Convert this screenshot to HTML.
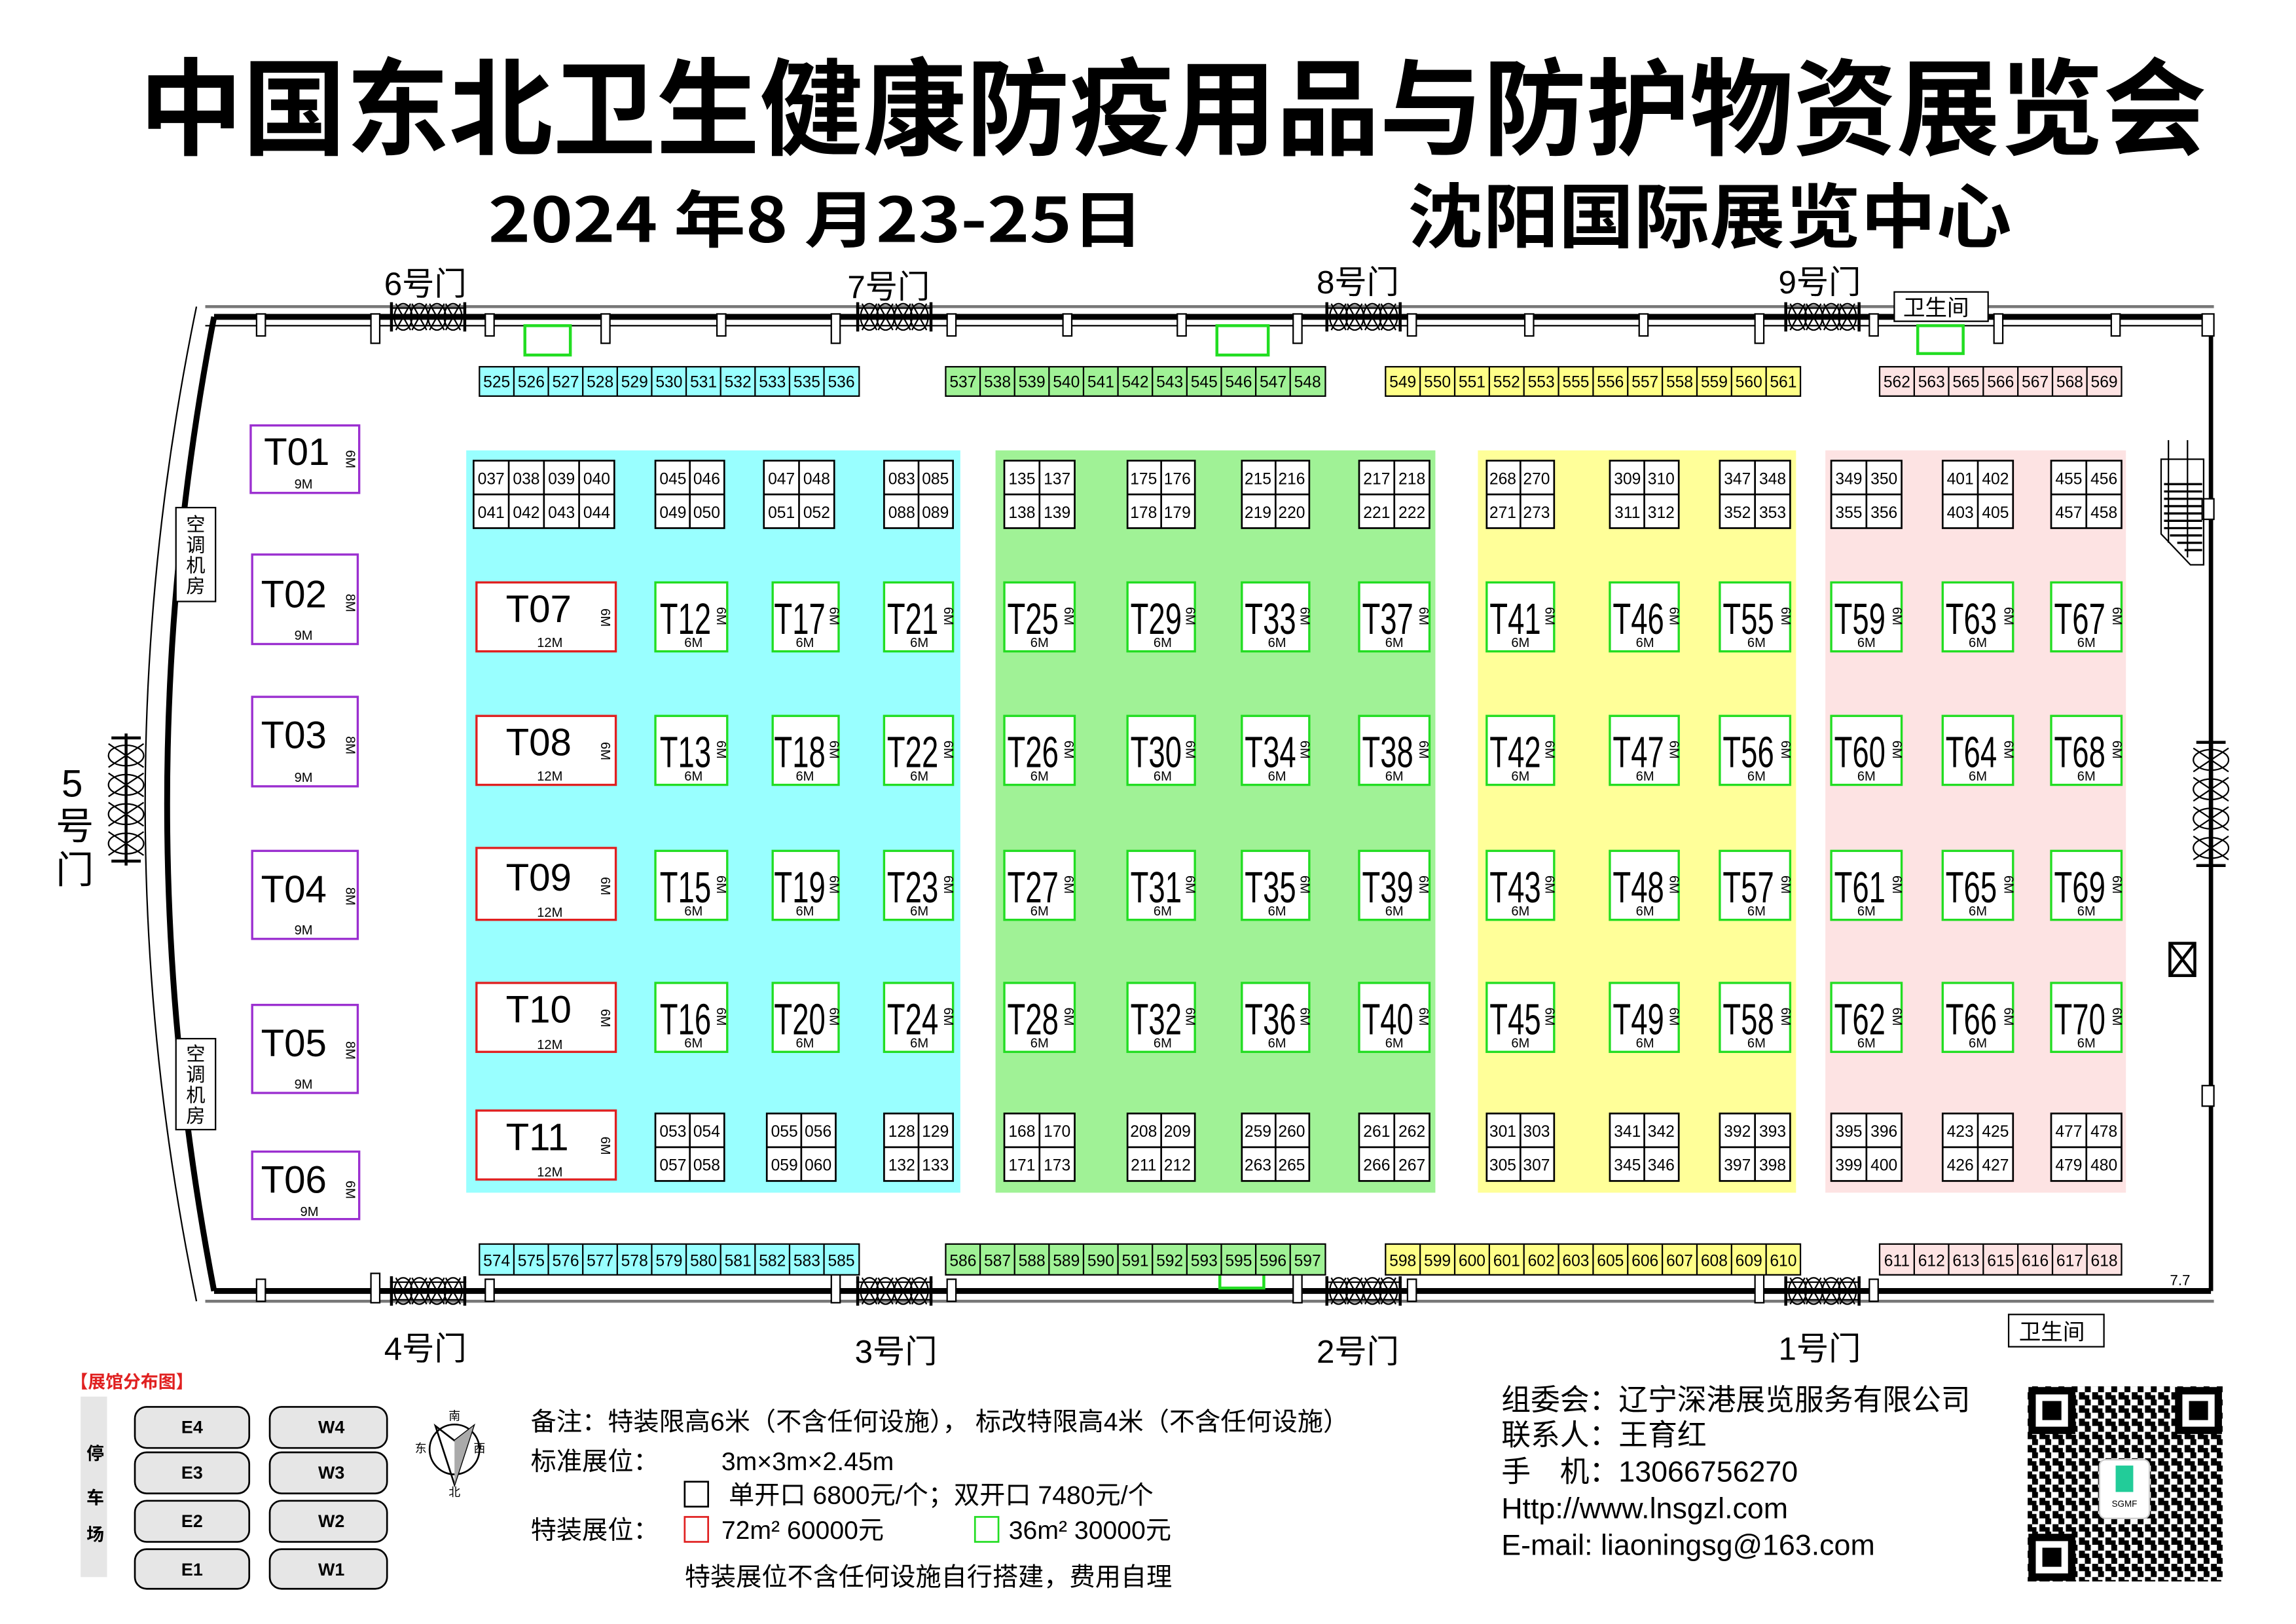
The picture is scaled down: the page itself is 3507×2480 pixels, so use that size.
<!DOCTYPE html>
<html><head><meta charset="utf-8"><style>
html,body{margin:0;padding:0;background:#fff}
svg{display:block}
text{font-family:"Liberation Sans","Noto Sans CJK SC",sans-serif;fill:#000}
.c{font-family:"Noto Sans CJK SC","Liberation Sans",sans-serif}
.s{font-size:11px;text-anchor:middle}
.b{font-size:30px}
.m{font-size:9px;text-anchor:middle}
</style></head><body>
<svg width="3507" height="2480" viewBox="0 0 1566 1107" preserveAspectRatio="none" xmlns="http://www.w3.org/2000/svg">
<defs>
<g id="door"><path d="M-26,-6 L26,-6 M-26,6 L26,6" stroke="#000" stroke-width="1"/>
<path d="M-22,-9 L-12,9 M-12,-9 L-22,9 M-11,-9 L-1,9 M-1,-9 L-11,9 M1,-9 L11,9 M11,-9 L1,9 M12,-9 L22,9 M22,-9 L12,9" stroke="#000" stroke-width="1"/>
<ellipse cx="-17" cy="0" rx="6" ry="9" fill="none" stroke="#000"/><ellipse cx="-6" cy="0" rx="6" ry="9" fill="none" stroke="#000"/><ellipse cx="6" cy="0" rx="6" ry="9" fill="none" stroke="#000"/><ellipse cx="17" cy="0" rx="6" ry="9" fill="none" stroke="#000"/>
<path d="M-25,-10 L-25,10 M25,-10 L25,10" stroke="#000" stroke-width="2"/></g>
<g id="vdoor"><path d="M-10,-42 L10,-42 M-10,42 L10,42 M0,-45 L0,45" stroke="#000" stroke-width="2"/>
<path d="M-12,-38 L12,-22 M12,-38 L-12,-22 M-12,-18 L12,-2 M12,-18 L-12,-2 M-12,2 L12,18 M12,2 L-12,18 M-12,22 L12,38 M12,22 L-12,38" stroke="#000"/>
<ellipse cx="0" cy="-30" rx="12" ry="7" fill="none" stroke="#000"/><ellipse cx="0" cy="-10" rx="12" ry="7" fill="none" stroke="#000"/><ellipse cx="0" cy="10" rx="12" ry="7" fill="none" stroke="#000"/><ellipse cx="0" cy="30" rx="12" ry="7" fill="none" stroke="#000"/></g>
<pattern id="qr" width="9" height="9" patternUnits="userSpaceOnUse"><rect width="9" height="9" fill="#fff"/><rect x="0" y="0" width="4" height="4" fill="#000"/><rect x="5" y="4" width="4" height="5" fill="#000"/><rect x="0" y="6" width="3" height="3" fill="#000"/></pattern>
</defs>

<text x="95" y="100" font-size="72" font-weight="bold" textLength="1410" lengthAdjust="spacingAndGlyphs" class="c">中国东北卫生健康防疫用品与防护物资展览会</text>
<text x="333" y="165" font-size="42" font-weight="bold" textLength="447" lengthAdjust="spacingAndGlyphs" class="c">2024 年8 月23-25日</text>
<text x="960" y="165" font-size="48" font-weight="bold" textLength="412" lengthAdjust="spacingAndGlyphs" class="c">沈阳国际展览中心</text>

<rect x="318" y="307" width="337" height="506" fill="#99ffff"/>
<rect x="679" y="307" width="300" height="506" fill="#a0f296"/>
<rect x="1008" y="307" width="217" height="506" fill="#ffff99"/>
<rect x="1245" y="307" width="205" height="506" fill="#fde3e3"/>

<path d="M140,209 L1510,209" stroke="#777" stroke-width="2"/>
<path d="M146,216 L1508,216" stroke="#000" stroke-width="4"/>
<path d="M140,222 L1508,222" stroke="#000" stroke-width="1"/>
<path d="M1508,216 L1508,880" stroke="#000" stroke-width="3"/>
<path d="M146,880 L1508,880" stroke="#000" stroke-width="4"/>
<path d="M140,887 L1510,887" stroke="#777" stroke-width="2"/>
<path d="M146,216 Q82,548 146,880" fill="none" stroke="#000" stroke-width="4"/>
<path d="M134,209 Q64,548 134,887" fill="none" stroke="#000" stroke-width="1"/>
<g fill="#fff" stroke="#000" stroke-width="1">
<rect x="175" y="214" width="6" height="15"/><rect x="253" y="214" width="6" height="20"/><rect x="331" y="214" width="6" height="15"/><rect x="410" y="214" width="6" height="20"/><rect x="489" y="214" width="6" height="15"/><rect x="567" y="214" width="6" height="20"/><rect x="646" y="214" width="6" height="15"/><rect x="725" y="214" width="6" height="15"/><rect x="803" y="214" width="6" height="15"/><rect x="882" y="214" width="6" height="20"/><rect x="960" y="214" width="6" height="15"/><rect x="1040" y="214" width="6" height="15"/><rect x="1118" y="214" width="6" height="15"/><rect x="1197" y="214" width="6" height="20"/><rect x="1275" y="214" width="6" height="15"/><rect x="1360" y="214" width="6" height="20"/><rect x="1440" y="214" width="6" height="15"/><rect x="1502" y="214" width="8" height="15"/>
<rect x="175" y="872" width="6" height="15"/><rect x="253" y="868" width="6" height="20"/><rect x="331" y="872" width="6" height="15"/><rect x="567" y="868" width="6" height="20"/><rect x="646" y="872" width="6" height="15"/><rect x="882" y="868" width="6" height="20"/><rect x="960" y="872" width="6" height="15"/><rect x="1197" y="868" width="6" height="20"/><rect x="1275" y="872" width="6" height="15"/>
<rect x="1502" y="340" width="8" height="14"/><rect x="1502" y="740" width="8" height="14"/>
</g>
<use href="#door" x="292" y="216"/><use href="#door" x="610" y="216"/><use href="#door" x="930" y="216"/><use href="#door" x="1243" y="216"/>
<use href="#door" x="292" y="880"/><use href="#door" x="610" y="880"/><use href="#door" x="930" y="880"/><use href="#door" x="1243" y="880"/>
<use href="#vdoor" x="86" y="545"/><use href="#vdoor" x="1508" y="548"/>
<g class="c" font-size="22">
<text x="262" y="201">6号门</text><text x="578" y="203">7号门</text><text x="898" y="200">8号门</text><text x="1213" y="200">9号门</text>
<text x="262" y="927">4号门</text><text x="583" y="929">3号门</text><text x="898" y="929">2号门</text><text x="1213" y="927">1号门</text>
<text x="42" y="543" font-size="26">5</text><text x="38" y="572" font-size="26">号</text><text x="38" y="602" font-size="26">门</text>
</g>
<rect x="1292" y="199" width="64" height="20" fill="#fff" stroke="#000"/><text x="1298" y="215" class="c" font-size="15">卫生间</text>
<rect x="1370" y="896" width="65" height="22" fill="#fff" stroke="#000"/><text x="1377" y="913" class="c" font-size="15">卫生间</text>
<g fill="none" stroke="#22dd22" stroke-width="2"><rect x="358" y="222" width="31" height="20"/><rect x="830" y="222" width="35" height="20"/><rect x="1308" y="222" width="31" height="19"/><rect x="832" y="868" width="30" height="10"/></g>
<g stroke="#000" fill="none"><path d="M1474,313 L1503,313 L1503,385 L1494,385 L1474,364 Z"/><path d="M1479,300 L1479,370 M1492,300 L1492,380"/>
<path d="M1476,330 H1502 M1476,335 H1502 M1476,340 H1502 M1476,345 H1502 M1476,350 H1502 M1476,355 H1502 M1476,360 H1502 M1480,365 H1502 M1485,370 H1502 M1490,375 H1502" stroke-width="1.5"/>
<rect x="1480" y="643" width="17" height="22" stroke-width="2"/><path d="M1480,643 L1497,665 M1497,643 L1480,665" stroke-width="2"/></g>
<text x="1480" y="876" font-size="10">7.7</text>

<rect x="120" y="346" width="27" height="64" fill="#fff" stroke="#000"/>
<text x="127" y="362" class="c" font-size="13">空</text><text x="127" y="376" class="c" font-size="13">调</text><text x="127" y="390" class="c" font-size="13">机</text><text x="127" y="404" class="c" font-size="13">房</text>
<rect x="120" y="708" width="27" height="62" fill="#fff" stroke="#000"/>
<text x="127" y="723" class="c" font-size="13">空</text><text x="127" y="737" class="c" font-size="13">调</text><text x="127" y="751" class="c" font-size="13">机</text><text x="127" y="765" class="c" font-size="13">房</text>

<g stroke="#000" stroke-width="1">
<rect x="327" y="250" width="259" height="20" fill="#99ffff"/>
<rect x="645" y="250" width="259" height="20" fill="#a0f296"/>
<rect x="945" y="250" width="283" height="20" fill="#ffff88"/>
<rect x="1282" y="250" width="165" height="20" fill="#fde3e3"/>
<rect x="327" y="848" width="259" height="21" fill="#99ffff"/>
<rect x="645" y="848" width="259" height="21" fill="#a0f296"/>
<rect x="945" y="848" width="283" height="21" fill="#ffff88"/>
<rect x="1282" y="848" width="165" height="21" fill="#fde3e3"/>
<path d="M350.5,250v20M374,250v20M397.5,250v20M421,250v20M444.5,250v20M468,250v20M491.5,250v20M515,250v20M538.5,250v20M562,250v20
M668.5,250v20M692,250v20M715.5,250v20M739,250v20M762.5,250v20M786,250v20M809.5,250v20M833,250v20M856.5,250v20M880,250v20
M968.6,250v20M992.2,250v20M1015.8,250v20M1039.4,250v20M1063,250v20M1086.6,250v20M1110.2,250v20M1133.8,250v20M1157.4,250v20M1181,250v20M1204.6,250v20
M1305.6,250v20M1329.1,250v20M1352.7,250v20M1376.3,250v20M1399.9,250v20M1423.4,250v20"/>
<path d="M350.5,848v21M374,848v21M397.5,848v21M421,848v21M444.5,848v21M468,848v21M491.5,848v21M515,848v21M538.5,848v21M562,848v21
M668.5,848v21M692,848v21M715.5,848v21M739,848v21M762.5,848v21M786,848v21M809.5,848v21M833,848v21M856.5,848v21M880,848v21
M968.6,848v21M992.2,848v21M1015.8,848v21M1039.4,848v21M1063,848v21M1086.6,848v21M1110.2,848v21M1133.8,848v21M1157.4,848v21M1181,848v21M1204.6,848v21
M1305.6,848v21M1329.1,848v21M1352.7,848v21M1376.3,848v21M1399.9,848v21M1423.4,848v21"/>
</g>
<g class="s">
<text x="338.8" y="264">525</text><text x="362.3" y="264">526</text><text x="385.8" y="264">527</text><text x="409.3" y="264">528</text><text x="432.8" y="264">529</text><text x="456.3" y="264">530</text><text x="479.8" y="264">531</text><text x="503.3" y="264">532</text><text x="526.8" y="264">533</text><text x="550.3" y="264">535</text><text x="573.8" y="264">536</text>
<text x="656.8" y="264">537</text><text x="680.3" y="264">538</text><text x="703.8" y="264">539</text><text x="727.3" y="264">540</text><text x="750.8" y="264">541</text><text x="774.3" y="264">542</text><text x="797.8" y="264">543</text><text x="821.3" y="264">545</text><text x="844.8" y="264">546</text><text x="868.3" y="264">547</text><text x="891.8" y="264">548</text>
<text x="956.8" y="264">549</text><text x="980.4" y="264">550</text><text x="1004" y="264">551</text><text x="1027.6" y="264">552</text><text x="1051.2" y="264">553</text><text x="1074.8" y="264">555</text><text x="1098.4" y="264">556</text><text x="1122" y="264">557</text><text x="1145.6" y="264">558</text><text x="1169.2" y="264">559</text><text x="1192.8" y="264">560</text><text x="1216.3" y="264">561</text>
<text x="1293.8" y="264">562</text><text x="1317.4" y="264">563</text><text x="1340.9" y="264">565</text><text x="1364.5" y="264">566</text><text x="1388.1" y="264">567</text><text x="1411.7" y="264">568</text><text x="1435.2" y="264">569</text>
<text x="338.8" y="863">574</text><text x="362.3" y="863">575</text><text x="385.8" y="863">576</text><text x="409.3" y="863">577</text><text x="432.8" y="863">578</text><text x="456.3" y="863">579</text><text x="479.8" y="863">580</text><text x="503.3" y="863">581</text><text x="526.8" y="863">582</text><text x="550.3" y="863">583</text><text x="573.8" y="863">585</text>
<text x="656.8" y="863">586</text><text x="680.3" y="863">587</text><text x="703.8" y="863">588</text><text x="727.3" y="863">589</text><text x="750.8" y="863">590</text><text x="774.3" y="863">591</text><text x="797.8" y="863">592</text><text x="821.3" y="863">593</text><text x="844.8" y="863">595</text><text x="868.3" y="863">596</text><text x="891.8" y="863">597</text>
<text x="956.8" y="863">598</text><text x="980.4" y="863">599</text><text x="1004" y="863">600</text><text x="1027.6" y="863">601</text><text x="1051.2" y="863">602</text><text x="1074.8" y="863">603</text><text x="1098.4" y="863">605</text><text x="1122" y="863">606</text><text x="1145.6" y="863">607</text><text x="1169.2" y="863">608</text><text x="1192.8" y="863">609</text><text x="1216.3" y="863">610</text>
<text x="1293.8" y="863">611</text><text x="1317.4" y="863">612</text><text x="1340.9" y="863">613</text><text x="1364.5" y="863">615</text><text x="1388.1" y="863">616</text><text x="1411.7" y="863">617</text><text x="1435.2" y="863">618</text>
</g>

<g fill="#fff" stroke="#9b2fd0" stroke-width="1.5">
<rect x="171" y="290" width="74" height="46"/><rect x="172" y="378" width="72" height="61"/><rect x="172" y="475" width="72" height="61"/><rect x="172" y="580" width="72" height="60"/><rect x="172" y="685" width="72" height="60"/><rect x="172" y="785" width="73" height="46"/>
</g>
<g font-size="26">
<text x="180" y="317">T01</text><text x="178" y="414">T02</text><text x="178" y="510">T03</text><text x="178" y="615">T04</text><text x="178" y="720">T05</text><text x="178" y="813">T06</text>
</g>
<g class="m"><text x="207" y="333">9M</text><text x="207" y="436">9M</text><text x="207" y="533">9M</text><text x="207" y="637">9M</text><text x="207" y="742">9M</text><text x="211" y="829">9M</text></g>
<g class="m">
<text transform="translate(236,313) rotate(90)">6M</text><text transform="translate(236,411) rotate(90)">8M</text><text transform="translate(236,508) rotate(90)">8M</text><text transform="translate(236,611) rotate(90)">8M</text><text transform="translate(236,716) rotate(90)">8M</text><text transform="translate(236,811) rotate(90)">6M</text>
</g>

<g fill="#fff" stroke="#e02020" stroke-width="1.5">
<rect x="325" y="397" width="95" height="47"/><rect x="325" y="488" width="95" height="47"/><rect x="325" y="578" width="95" height="49"/><rect x="325" y="670" width="95" height="47"/><rect x="325" y="757" width="95" height="47"/>
</g>
<g font-size="26"><text x="345" y="424">T07</text><text x="345" y="515">T08</text><text x="345" y="607">T09</text><text x="345" y="697">T10</text><text x="345" y="784">T11</text></g>
<g class="m"><text x="375" y="441">12M</text><text x="375" y="532">12M</text><text x="375" y="625">12M</text><text x="375" y="715">12M</text><text x="375" y="802">12M</text>
<text transform="translate(410,421) rotate(90)">6M</text><text transform="translate(410,512) rotate(90)">6M</text><text transform="translate(410,604) rotate(90)">6M</text><text transform="translate(410,694) rotate(90)">6M</text><text transform="translate(410,781) rotate(90)">6M</text></g>

<g fill="#fff" stroke="#22dd22" stroke-width="1.5">
<rect x="447" y="397" width="49" height="47"/><rect x="527" y="397" width="45" height="47"/><rect x="603" y="397" width="47" height="47"/>
<rect x="447" y="488" width="49" height="47"/><rect x="527" y="488" width="45" height="47"/><rect x="603" y="488" width="47" height="47"/>
<rect x="447" y="580" width="49" height="47"/><rect x="527" y="580" width="45" height="47"/><rect x="603" y="580" width="47" height="47"/>
<rect x="447" y="670" width="49" height="47"/><rect x="527" y="670" width="45" height="47"/><rect x="603" y="670" width="47" height="47"/>
<rect x="685" y="397" width="48" height="47"/><rect x="769" y="397" width="46" height="47"/><rect x="847" y="397" width="46" height="47"/><rect x="927" y="397" width="48" height="47"/>
<rect x="685" y="488" width="48" height="47"/><rect x="769" y="488" width="46" height="47"/><rect x="847" y="488" width="46" height="47"/><rect x="927" y="488" width="48" height="47"/>
<rect x="685" y="580" width="48" height="47"/><rect x="769" y="580" width="46" height="47"/><rect x="847" y="580" width="46" height="47"/><rect x="927" y="580" width="48" height="47"/>
<rect x="685" y="670" width="48" height="47"/><rect x="769" y="670" width="46" height="47"/><rect x="847" y="670" width="46" height="47"/><rect x="927" y="670" width="48" height="47"/>
<rect x="1014" y="397" width="46" height="47"/><rect x="1098" y="397" width="47" height="47"/><rect x="1173" y="397" width="48" height="47"/>
<rect x="1014" y="488" width="46" height="47"/><rect x="1098" y="488" width="47" height="47"/><rect x="1173" y="488" width="48" height="47"/>
<rect x="1014" y="580" width="46" height="47"/><rect x="1098" y="580" width="47" height="47"/><rect x="1173" y="580" width="48" height="47"/>
<rect x="1014" y="670" width="46" height="47"/><rect x="1098" y="670" width="47" height="47"/><rect x="1173" y="670" width="48" height="47"/>
<rect x="1249" y="397" width="48" height="47"/><rect x="1325" y="397" width="48" height="47"/><rect x="1399" y="397" width="48" height="47"/>
<rect x="1249" y="488" width="48" height="47"/><rect x="1325" y="488" width="48" height="47"/><rect x="1399" y="488" width="48" height="47"/>
<rect x="1249" y="580" width="48" height="47"/><rect x="1325" y="580" width="48" height="47"/><rect x="1399" y="580" width="48" height="47"/>
<rect x="1249" y="670" width="48" height="47"/><rect x="1325" y="670" width="48" height="47"/><rect x="1399" y="670" width="48" height="47"/>
</g>
<g class="b">
<text x="450" y="432" textLength="35" lengthAdjust="spacingAndGlyphs">T12</text><text x="528" y="432" textLength="35" lengthAdjust="spacingAndGlyphs">T17</text><text x="605" y="432" textLength="35" lengthAdjust="spacingAndGlyphs">T21</text>
<text x="450" y="523" textLength="35" lengthAdjust="spacingAndGlyphs">T13</text><text x="528" y="523" textLength="35" lengthAdjust="spacingAndGlyphs">T18</text><text x="605" y="523" textLength="35" lengthAdjust="spacingAndGlyphs">T22</text>
<text x="450" y="615" textLength="35" lengthAdjust="spacingAndGlyphs">T15</text><text x="528" y="615" textLength="35" lengthAdjust="spacingAndGlyphs">T19</text><text x="605" y="615" textLength="35" lengthAdjust="spacingAndGlyphs">T23</text>
<text x="450" y="705" textLength="35" lengthAdjust="spacingAndGlyphs">T16</text><text x="528" y="705" textLength="35" lengthAdjust="spacingAndGlyphs">T20</text><text x="605" y="705" textLength="35" lengthAdjust="spacingAndGlyphs">T24</text>
<text x="687" y="432" textLength="35" lengthAdjust="spacingAndGlyphs">T25</text><text x="771" y="432" textLength="35" lengthAdjust="spacingAndGlyphs">T29</text><text x="849" y="432" textLength="35" lengthAdjust="spacingAndGlyphs">T33</text><text x="929" y="432" textLength="35" lengthAdjust="spacingAndGlyphs">T37</text>
<text x="687" y="523" textLength="35" lengthAdjust="spacingAndGlyphs">T26</text><text x="771" y="523" textLength="35" lengthAdjust="spacingAndGlyphs">T30</text><text x="849" y="523" textLength="35" lengthAdjust="spacingAndGlyphs">T34</text><text x="929" y="523" textLength="35" lengthAdjust="spacingAndGlyphs">T38</text>
<text x="687" y="615" textLength="35" lengthAdjust="spacingAndGlyphs">T27</text><text x="771" y="615" textLength="35" lengthAdjust="spacingAndGlyphs">T31</text><text x="849" y="615" textLength="35" lengthAdjust="spacingAndGlyphs">T35</text><text x="929" y="615" textLength="35" lengthAdjust="spacingAndGlyphs">T39</text>
<text x="687" y="705" textLength="35" lengthAdjust="spacingAndGlyphs">T28</text><text x="771" y="705" textLength="35" lengthAdjust="spacingAndGlyphs">T32</text><text x="849" y="705" textLength="35" lengthAdjust="spacingAndGlyphs">T36</text><text x="929" y="705" textLength="35" lengthAdjust="spacingAndGlyphs">T40</text>
<text x="1016" y="432" textLength="35" lengthAdjust="spacingAndGlyphs">T41</text><text x="1100" y="432" textLength="35" lengthAdjust="spacingAndGlyphs">T46</text><text x="1175" y="432" textLength="35" lengthAdjust="spacingAndGlyphs">T55</text>
<text x="1016" y="523" textLength="35" lengthAdjust="spacingAndGlyphs">T42</text><text x="1100" y="523" textLength="35" lengthAdjust="spacingAndGlyphs">T47</text><text x="1175" y="523" textLength="35" lengthAdjust="spacingAndGlyphs">T56</text>
<text x="1016" y="615" textLength="35" lengthAdjust="spacingAndGlyphs">T43</text><text x="1100" y="615" textLength="35" lengthAdjust="spacingAndGlyphs">T48</text><text x="1175" y="615" textLength="35" lengthAdjust="spacingAndGlyphs">T57</text>
<text x="1016" y="705" textLength="35" lengthAdjust="spacingAndGlyphs">T45</text><text x="1100" y="705" textLength="35" lengthAdjust="spacingAndGlyphs">T49</text><text x="1175" y="705" textLength="35" lengthAdjust="spacingAndGlyphs">T58</text>
<text x="1251" y="432" textLength="35" lengthAdjust="spacingAndGlyphs">T59</text><text x="1327" y="432" textLength="35" lengthAdjust="spacingAndGlyphs">T63</text><text x="1401" y="432" textLength="35" lengthAdjust="spacingAndGlyphs">T67</text>
<text x="1251" y="523" textLength="35" lengthAdjust="spacingAndGlyphs">T60</text><text x="1327" y="523" textLength="35" lengthAdjust="spacingAndGlyphs">T64</text><text x="1401" y="523" textLength="35" lengthAdjust="spacingAndGlyphs">T68</text>
<text x="1251" y="615" textLength="35" lengthAdjust="spacingAndGlyphs">T61</text><text x="1327" y="615" textLength="35" lengthAdjust="spacingAndGlyphs">T65</text><text x="1401" y="615" textLength="35" lengthAdjust="spacingAndGlyphs">T69</text>
<text x="1251" y="705" textLength="35" lengthAdjust="spacingAndGlyphs">T62</text><text x="1327" y="705" textLength="35" lengthAdjust="spacingAndGlyphs">T66</text><text x="1401" y="705" textLength="35" lengthAdjust="spacingAndGlyphs">T70</text>
</g>
<g class="m">
<text x="473" y="441">6M</text><text x="549" y="441">6M</text><text x="627" y="441">6M</text><text x="473" y="532">6M</text><text x="549" y="532">6M</text><text x="627" y="532">6M</text><text x="473" y="624">6M</text><text x="549" y="624">6M</text><text x="627" y="624">6M</text><text x="473" y="714">6M</text><text x="549" y="714">6M</text><text x="627" y="714">6M</text>
<text x="709" y="441">6M</text><text x="793" y="441">6M</text><text x="871" y="441">6M</text><text x="951" y="441">6M</text><text x="709" y="532">6M</text><text x="793" y="532">6M</text><text x="871" y="532">6M</text><text x="951" y="532">6M</text><text x="709" y="624">6M</text><text x="793" y="624">6M</text><text x="871" y="624">6M</text><text x="951" y="624">6M</text><text x="709" y="714">6M</text><text x="793" y="714">6M</text><text x="871" y="714">6M</text><text x="951" y="714">6M</text>
<text x="1037" y="441">6M</text><text x="1122" y="441">6M</text><text x="1198" y="441">6M</text><text x="1037" y="532">6M</text><text x="1122" y="532">6M</text><text x="1198" y="532">6M</text><text x="1037" y="624">6M</text><text x="1122" y="624">6M</text><text x="1198" y="624">6M</text><text x="1037" y="714">6M</text><text x="1122" y="714">6M</text><text x="1198" y="714">6M</text>
<text x="1273" y="441">6M</text><text x="1349" y="441">6M</text><text x="1423" y="441">6M</text><text x="1273" y="532">6M</text><text x="1349" y="532">6M</text><text x="1423" y="532">6M</text><text x="1273" y="624">6M</text><text x="1349" y="624">6M</text><text x="1423" y="624">6M</text><text x="1273" y="714">6M</text><text x="1349" y="714">6M</text><text x="1423" y="714">6M</text>
</g>
<g class="m">
<text transform="translate(489,420) rotate(90)">6M</text><text transform="translate(566,420) rotate(90)">6M</text><text transform="translate(644,420) rotate(90)">6M</text>
<text transform="translate(489,511) rotate(90)">6M</text><text transform="translate(566,511) rotate(90)">6M</text><text transform="translate(644,511) rotate(90)">6M</text>
<text transform="translate(489,603) rotate(90)">6M</text><text transform="translate(566,603) rotate(90)">6M</text><text transform="translate(644,603) rotate(90)">6M</text>
<text transform="translate(489,693) rotate(90)">6M</text><text transform="translate(566,693) rotate(90)">6M</text><text transform="translate(644,693) rotate(90)">6M</text>
<text transform="translate(726,420) rotate(90)">6M</text><text transform="translate(809,420) rotate(90)">6M</text><text transform="translate(887,420) rotate(90)">6M</text><text transform="translate(968,420) rotate(90)">6M</text>
<text transform="translate(726,511) rotate(90)">6M</text><text transform="translate(809,511) rotate(90)">6M</text><text transform="translate(887,511) rotate(90)">6M</text><text transform="translate(968,511) rotate(90)">6M</text>
<text transform="translate(726,603) rotate(90)">6M</text><text transform="translate(809,603) rotate(90)">6M</text><text transform="translate(887,603) rotate(90)">6M</text><text transform="translate(968,603) rotate(90)">6M</text>
<text transform="translate(726,693) rotate(90)">6M</text><text transform="translate(809,693) rotate(90)">6M</text><text transform="translate(887,693) rotate(90)">6M</text><text transform="translate(968,693) rotate(90)">6M</text>
<text transform="translate(1054,420) rotate(90)">6M</text><text transform="translate(1139,420) rotate(90)">6M</text><text transform="translate(1215,420) rotate(90)">6M</text>
<text transform="translate(1054,511) rotate(90)">6M</text><text transform="translate(1139,511) rotate(90)">6M</text><text transform="translate(1215,511) rotate(90)">6M</text>
<text transform="translate(1054,603) rotate(90)">6M</text><text transform="translate(1139,603) rotate(90)">6M</text><text transform="translate(1215,603) rotate(90)">6M</text>
<text transform="translate(1054,693) rotate(90)">6M</text><text transform="translate(1139,693) rotate(90)">6M</text><text transform="translate(1215,693) rotate(90)">6M</text>
<text transform="translate(1291,420) rotate(90)">6M</text><text transform="translate(1367,420) rotate(90)">6M</text><text transform="translate(1441,420) rotate(90)">6M</text>
<text transform="translate(1291,511) rotate(90)">6M</text><text transform="translate(1367,511) rotate(90)">6M</text><text transform="translate(1441,511) rotate(90)">6M</text>
<text transform="translate(1291,603) rotate(90)">6M</text><text transform="translate(1367,603) rotate(90)">6M</text><text transform="translate(1441,603) rotate(90)">6M</text>
<text transform="translate(1291,693) rotate(90)">6M</text><text transform="translate(1367,693) rotate(90)">6M</text><text transform="translate(1441,693) rotate(90)">6M</text>
</g>

<g fill="#fff" stroke="#000" stroke-width="1.2">
<rect x="323" y="314" width="96" height="46"/><path d="M347,314v46M371,314v46M395,314v46M323,337h96"/>
<rect x="447" y="314" width="47" height="46"/><path d="M470.5,314v46M447,337h47"/>
<rect x="521" y="314" width="48" height="46"/><path d="M545,314v46M521,337h48"/>
<rect x="603" y="314" width="47" height="46"/><path d="M626.5,314v46M603,337h47"/>
<rect x="685" y="314" width="48" height="46"/><path d="M709,314v46M685,337h48"/>
<rect x="769" y="314" width="46" height="46"/><path d="M792,314v46M769,337h46"/>
<rect x="847" y="314" width="46" height="46"/><path d="M870,314v46M847,337h46"/>
<rect x="927" y="314" width="48" height="46"/><path d="M951,314v46M927,337h48"/>
<rect x="1014" y="314" width="46" height="46"/><path d="M1037,314v46M1014,337h46"/>
<rect x="1098" y="314" width="47" height="46"/><path d="M1121.5,314v46M1098,337h47"/>
<rect x="1173" y="314" width="48" height="46"/><path d="M1197,314v46M1173,337h48"/>
<rect x="1249" y="314" width="48" height="46"/><path d="M1273,314v46M1249,337h48"/>
<rect x="1325" y="314" width="48" height="46"/><path d="M1349,314v46M1325,337h48"/>
<rect x="1399" y="314" width="48" height="46"/><path d="M1423,314v46M1399,337h48"/>
<rect x="447" y="759" width="47" height="46"/><path d="M470.5,759v46M447,782h47"/>
<rect x="523" y="759" width="47" height="46"/><path d="M546.5,759v46M523,782h47"/>
<rect x="603" y="759" width="47" height="46"/><path d="M626.5,759v46M603,782h47"/>
<rect x="685" y="759" width="48" height="46"/><path d="M709,759v46M685,782h48"/>
<rect x="769" y="759" width="46" height="46"/><path d="M792,759v46M769,782h46"/>
<rect x="847" y="759" width="46" height="46"/><path d="M870,759v46M847,782h46"/>
<rect x="927" y="759" width="48" height="46"/><path d="M951,759v46M927,782h48"/>
<rect x="1014" y="759" width="46" height="46"/><path d="M1037,759v46M1014,782h46"/>
<rect x="1098" y="759" width="47" height="46"/><path d="M1121.5,759v46M1098,782h47"/>
<rect x="1173" y="759" width="48" height="46"/><path d="M1197,759v46M1173,782h48"/>
<rect x="1249" y="759" width="48" height="46"/><path d="M1273,759v46M1249,782h48"/>
<rect x="1325" y="759" width="48" height="46"/><path d="M1349,759v46M1325,782h48"/>
<rect x="1399" y="759" width="48" height="46"/><path d="M1423,759v46M1399,782h48"/>
</g>
<g class="s">
<text x="335" y="330">037</text><text x="359" y="330">038</text><text x="383" y="330">039</text><text x="407" y="330">040</text>
<text x="335" y="353">041</text><text x="359" y="353">042</text><text x="383" y="353">043</text><text x="407" y="353">044</text>
<text x="459" y="330">045</text><text x="482" y="330">046</text><text x="459" y="353">049</text><text x="482" y="353">050</text>
<text x="533" y="330">047</text><text x="557" y="330">048</text><text x="533" y="353">051</text><text x="557" y="353">052</text>
<text x="615" y="330">083</text><text x="638" y="330">085</text><text x="615" y="353">088</text><text x="638" y="353">089</text>
<text x="697" y="330">135</text><text x="721" y="330">137</text><text x="697" y="353">138</text><text x="721" y="353">139</text>
<text x="780" y="330">175</text><text x="803" y="330">176</text><text x="780" y="353">178</text><text x="803" y="353">179</text>
<text x="858" y="330">215</text><text x="881" y="330">216</text><text x="858" y="353">219</text><text x="881" y="353">220</text>
<text x="939" y="330">217</text><text x="963" y="330">218</text><text x="939" y="353">221</text><text x="963" y="353">222</text>
<text x="1025" y="330">268</text><text x="1048" y="330">270</text><text x="1025" y="353">271</text><text x="1048" y="353">273</text>
<text x="1110" y="330">309</text><text x="1133" y="330">310</text><text x="1110" y="353">311</text><text x="1133" y="353">312</text>
<text x="1185" y="330">347</text><text x="1209" y="330">348</text><text x="1185" y="353">352</text><text x="1209" y="353">353</text>
<text x="1261" y="330">349</text><text x="1285" y="330">350</text><text x="1261" y="353">355</text><text x="1285" y="353">356</text>
<text x="1337" y="330">401</text><text x="1361" y="330">402</text><text x="1337" y="353">403</text><text x="1361" y="353">405</text>
<text x="1411" y="330">455</text><text x="1435" y="330">456</text><text x="1411" y="353">457</text><text x="1435" y="353">458</text>
<text x="459" y="775">053</text><text x="482" y="775">054</text><text x="459" y="798">057</text><text x="482" y="798">058</text>
<text x="535" y="775">055</text><text x="558" y="775">056</text><text x="535" y="798">059</text><text x="558" y="798">060</text>
<text x="615" y="775">128</text><text x="638" y="775">129</text><text x="615" y="798">132</text><text x="638" y="798">133</text>
<text x="697" y="775">168</text><text x="721" y="775">170</text><text x="697" y="798">171</text><text x="721" y="798">173</text>
<text x="780" y="775">208</text><text x="803" y="775">209</text><text x="780" y="798">211</text><text x="803" y="798">212</text>
<text x="858" y="775">259</text><text x="881" y="775">260</text><text x="858" y="798">263</text><text x="881" y="798">265</text>
<text x="939" y="775">261</text><text x="963" y="775">262</text><text x="939" y="798">266</text><text x="963" y="798">267</text>
<text x="1025" y="775">301</text><text x="1048" y="775">303</text><text x="1025" y="798">305</text><text x="1048" y="798">307</text>
<text x="1110" y="775">341</text><text x="1133" y="775">342</text><text x="1110" y="798">345</text><text x="1133" y="798">346</text>
<text x="1185" y="775">392</text><text x="1209" y="775">393</text><text x="1185" y="798">397</text><text x="1209" y="798">398</text>
<text x="1261" y="775">395</text><text x="1285" y="775">396</text><text x="1261" y="798">399</text><text x="1285" y="798">400</text>
<text x="1337" y="775">423</text><text x="1361" y="775">425</text><text x="1337" y="798">426</text><text x="1361" y="798">427</text>
<text x="1411" y="775">477</text><text x="1435" y="775">478</text><text x="1411" y="798">479</text><text x="1435" y="798">480</text>
</g>

<text x="48" y="946" class="c" font-size="12" font-weight="bold" style="fill:#e02020">【展馆分布图】</text>
<rect x="55" y="952" width="18" height="123" fill="#e6e6e6"/>
<text x="59" y="995" class="c" font-size="12" font-weight="bold">停</text><text x="59" y="1025" class="c" font-size="12" font-weight="bold">车</text><text x="59" y="1050" class="c" font-size="12" font-weight="bold">场</text>
<g fill="#e6e6e6" stroke="#000" stroke-width="1.2">
<rect x="92" y="959" width="78" height="28" rx="8"/><rect x="92" y="990" width="78" height="28" rx="8"/><rect x="92" y="1023" width="78" height="28" rx="8"/><rect x="92" y="1056" width="78" height="27" rx="8"/>
<rect x="184" y="959" width="80" height="28" rx="8"/><rect x="184" y="990" width="80" height="28" rx="8"/><rect x="184" y="1023" width="80" height="28" rx="8"/><rect x="184" y="1056" width="80" height="27" rx="8"/>
</g>
<g font-size="12" font-weight="bold" text-anchor="middle"><text x="131" y="977">E4</text><text x="131" y="1008">E3</text><text x="131" y="1041">E2</text><text x="131" y="1074">E1</text><text x="226" y="977">W4</text><text x="226" y="1008">W3</text><text x="226" y="1041">W2</text><text x="226" y="1074">W1</text></g>
<g fill="none" stroke="#000" stroke-width="1.2"><circle cx="310" cy="988" r="17"/><path d="M297,972 L310,1012 L323,972 L310,982 Z"/></g>
<path d="M310,982 L323,972 L310,1012 Z" fill="#aaa"/>
<g class="c" font-size="8"><text x="306" y="968">南</text><text x="306" y="1020">北</text><text x="283" y="990">东</text><text x="323" y="990">西</text></g>

<g class="c" font-size="17.5">
<text x="362" y="975">备注：特装限高6米（不含任何设施）， 标改特限高4米（不含任何设施）</text>
<text x="362" y="1002">标准展位：</text><text x="492" y="1002">3m×3m×2.45m</text>
<text x="497" y="1025">单开口 6800元/个；双开口 7480元/个</text>
<text x="362" y="1049">特装展位：</text><text x="492" y="1049">72m² 60000元</text><text x="688" y="1049">36m² 30000元</text>
<text x="467" y="1081">特装展位不含任何设施自行搭建，费用自理</text>
</g>
<rect x="467" y="1010" width="16" height="17" fill="none" stroke="#000" stroke-width="1.2"/>
<rect x="467" y="1034" width="16" height="17" fill="none" stroke="#e02020" stroke-width="1.2"/>
<rect x="665" y="1034" width="16" height="17" fill="none" stroke="#22dd22" stroke-width="1.2"/>

<g class="c" font-size="20">
<text x="1024" y="961">组委会：辽宁深港展览服务有限公司</text>
<text x="1024" y="985">联系人：王育红</text>
<text x="1024" y="1010">手　机：13066756270</text>
<text x="1024" y="1035">Http://www.lnsgzl.com</text>
<text x="1024" y="1060">E-mail: liaoningsg@163.com</text>
</g>
<rect x="1383" y="945" width="133" height="133" fill="url(#qr)"/>
<g fill="#fff" stroke="#000" stroke-width="5"><rect x="1386" y="948" width="27" height="27"/><rect x="1486" y="948" width="27" height="27"/><rect x="1386" y="1048" width="27" height="27"/></g>
<g fill="#000"><rect x="1393" y="955" width="13" height="13"/><rect x="1493" y="955" width="13" height="13"/><rect x="1393" y="1055" width="13" height="13"/></g>
<rect x="1432" y="995" width="34" height="40" rx="4" fill="#fff" stroke="#ccc"/>
<rect x="1443" y="999" width="12" height="18" fill="#2c9" /><text x="1449" y="1027" font-size="6" text-anchor="middle">SGMF</text>
</svg>
</body></html>
